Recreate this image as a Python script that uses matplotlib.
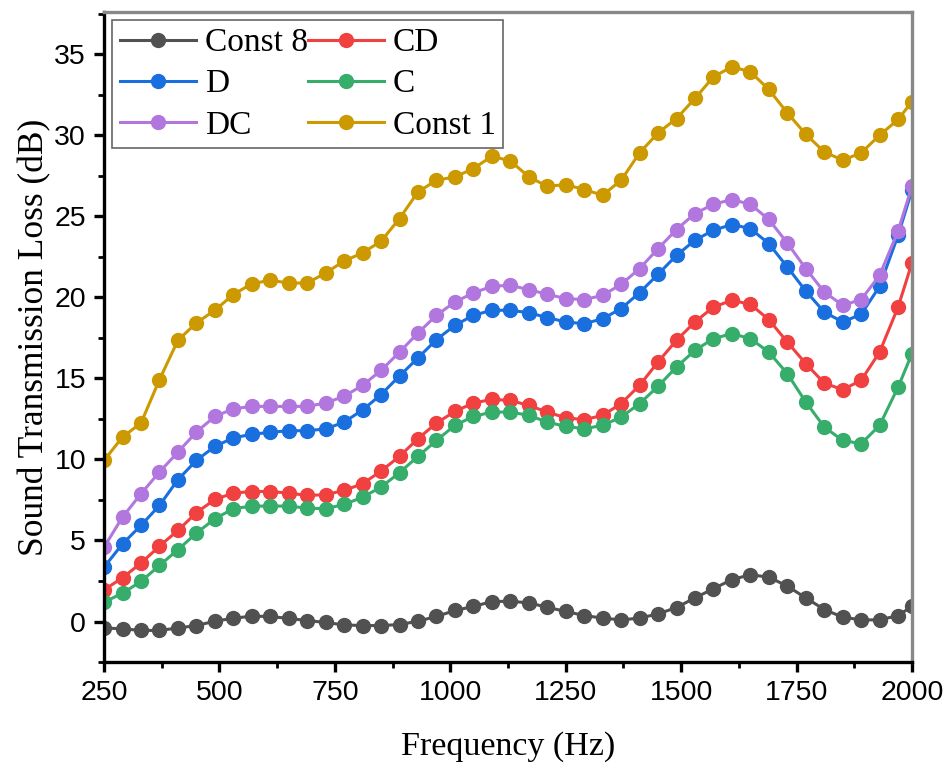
import numpy as np
import matplotlib
matplotlib.use("Agg")
import matplotlib.pyplot as plt
from matplotlib.ticker import MultipleLocator

# ===============================
# DATA
# ===============================
freq = [250, 290, 330, 370, 410, 450, 490, 530, 570, 610, 650, 690, 730, 770, 810,
        850, 890, 930, 970, 1010, 1050, 1090, 1130, 1170, 1210, 1250, 1290, 1330,
        1370, 1410, 1450, 1490, 1530, 1570, 1610, 1650, 1690, 1730, 1770, 1810,
        1850, 1890, 1930, 1970, 2000]

const8 = [-0.4, -0.45, -0.55, -0.55, -0.4, -0.25, 0.02, 0.2, 0.33, 0.31, 0.19, 0.06,
          -0.06, -0.21, -0.25, -0.25, -0.19, 0.02, 0.31, 0.68, 0.93, 1.23, 1.25,
          1.15, 0.88, 0.62, 0.37, 0.21, 0.10, 0.21, 0.47, 0.86, 1.46, 2.02, 2.59,
          2.88, 2.74, 2.18, 1.46, 0.74, 0.27, 0.10, 0.10, 0.37, 0.93]

cd = [1.95, 2.70, 3.60, 4.65, 5.62, 6.71, 7.53, 7.92, 8.02, 8.02, 7.92, 7.78, 7.82,
      8.09, 8.50, 9.28, 10.19, 11.28, 12.24, 12.96, 13.48, 13.70, 13.64,
      13.33, 12.92, 12.57, 12.45, 12.72, 13.44, 14.57, 16.01, 17.35,
      18.48, 19.40, 19.81, 19.57, 18.62, 17.24, 15.91, 14.71, 14.30, 14.88,
      16.62, 19.40, 22.12]

d = [3.35, 4.79, 5.93, 7.16, 8.75, 9.94, 10.8, 11.33, 11.55, 11.67, 11.77, 11.77,
     11.88, 12.3, 13.05, 14.0, 15.15,
     16.26, 17.39, 18.27, 18.89, 19.20, 19.20, 19.05, 18.75, 18.48, 18.37, 18.68,
     19.30, 20.29, 21.42, 22.59,
     23.52, 24.14, 24.49, 24.24, 23.31, 21.87, 20.39, 19.09, 18.48, 18.95, 20.68,
     23.83, 26.60]

c = [1.19, 1.75, 2.47, 3.46, 4.43, 5.45, 6.34, 6.96, 7.12, 7.12, 7.12, 6.99, 6.96,
     7.22, 7.67, 8.29, 9.18, 10.19, 11.17, 12.10, 12.65, 12.92, 12.92,
     12.72, 12.30, 12.04, 11.89, 12.10, 12.61, 13.44, 14.51, 15.70,
     16.73, 17.45, 17.76, 17.45, 16.62, 15.29, 13.54, 12.0, 11.17, 10.97,
     12.10, 14.46, 16.52]

dc = [4.59, 6.44, 7.88, 9.22, 10.45, 11.69, 12.65, 13.12, 13.27, 13.27, 13.27, 13.27,
      13.48, 13.89, 14.57, 15.49, 16.62,
      17.80, 18.89, 19.71, 20.27, 20.68, 20.74, 20.47, 20.19, 19.92, 19.86, 20.12,
      20.80, 21.77, 23.0, 24.18,
      25.17, 25.74, 26.03, 25.74, 24.80, 23.35, 21.77, 20.33, 19.51, 19.86, 21.36,
      24.09, 26.85]

const1 = [9.94, 11.38, 12.24, 14.92, 17.35, 18.42, 19.20, 20.17, 20.84, 21.05, 20.88,
          20.88, 21.50, 22.24, 22.74, 23.46, 24.86,
          26.50, 27.22, 27.43, 27.94, 28.70, 28.42, 27.43, 26.85, 26.95, 26.65, 26.30,
          27.22, 28.91, 30.14,
          31.03, 32.27, 33.60, 34.22, 33.91, 32.82, 31.38, 30.06, 28.97, 28.46, 28.91,
          30.0, 30.97, 32.07]

# legend order in matplotlib fills columns first
series = [
    ("Const 8", const8, "#515151"),
    ("D", d, "#1A6FDF"),
    ("DC", dc, "#B177DE"),
    ("CD", cd, "#F14040"),
    ("C", c, "#37AD6B"),
    ("Const 1", const1, "#CC9900"),
]

# ===============================
# PLOT
# ===============================
fig = plt.figure(figsize=(9.46, 7.65), dpi=100)
ax = fig.add_axes([0.110, 0.1346, 0.854, 0.8497])

for name, vals, col in series:
    ax.plot(freq, vals, color=col, lw=2.2, marker="o", ms=10, label=name)

ax.set_xlim(250, 2000)
ax.set_ylim(-2.5, 37.6)
ax.xaxis.set_major_locator(MultipleLocator(250))
ax.xaxis.set_minor_locator(MultipleLocator(125))
ax.yaxis.set_major_locator(MultipleLocator(5))
ax.yaxis.set_minor_locator(MultipleLocator(2.5))

for side in ["left", "bottom"]:
    ax.spines[side].set_linewidth(2.4)
    ax.spines[side].set_color("black")
for side in ["top", "right"]:
    ax.spines[side].set_linewidth(2.4)
    ax.spines[side].set_color("#888888")

ax.tick_params(which="major", direction="out", length=7, width=2.4,
               top=False, right=False, labelsize=20.5, pad=6)
ax.tick_params(which="minor", direction="out", length=4, width=2.0,
               top=False, right=False)
for lab in ax.get_xticklabels() + ax.get_yticklabels():
    lab.set_fontfamily("Liberation Sans")

ax.set_xlabel("Frequency (Hz)", fontsize=24.5, family="Liberation Serif", labelpad=18)
ax.set_ylabel("Sound Transmission Loss (dB)", fontsize=25.5, family="Liberation Serif",
              labelpad=2)

leg = ax.legend(ncol=2, loc="upper left", bbox_to_anchor=(0.0, 1.0),
                prop={"family": "Liberation Serif", "size": 24},
                handlelength=2.3, handletextpad=0.25, columnspacing=0.0,
                labelspacing=0.32, borderpad=0.22, borderaxespad=0.25,
                fancybox=False, framealpha=1)
leg.get_frame().set_edgecolor("#666666")
leg.get_frame().set_linewidth(1.2)

fig.savefig("out.png", dpi=100)
